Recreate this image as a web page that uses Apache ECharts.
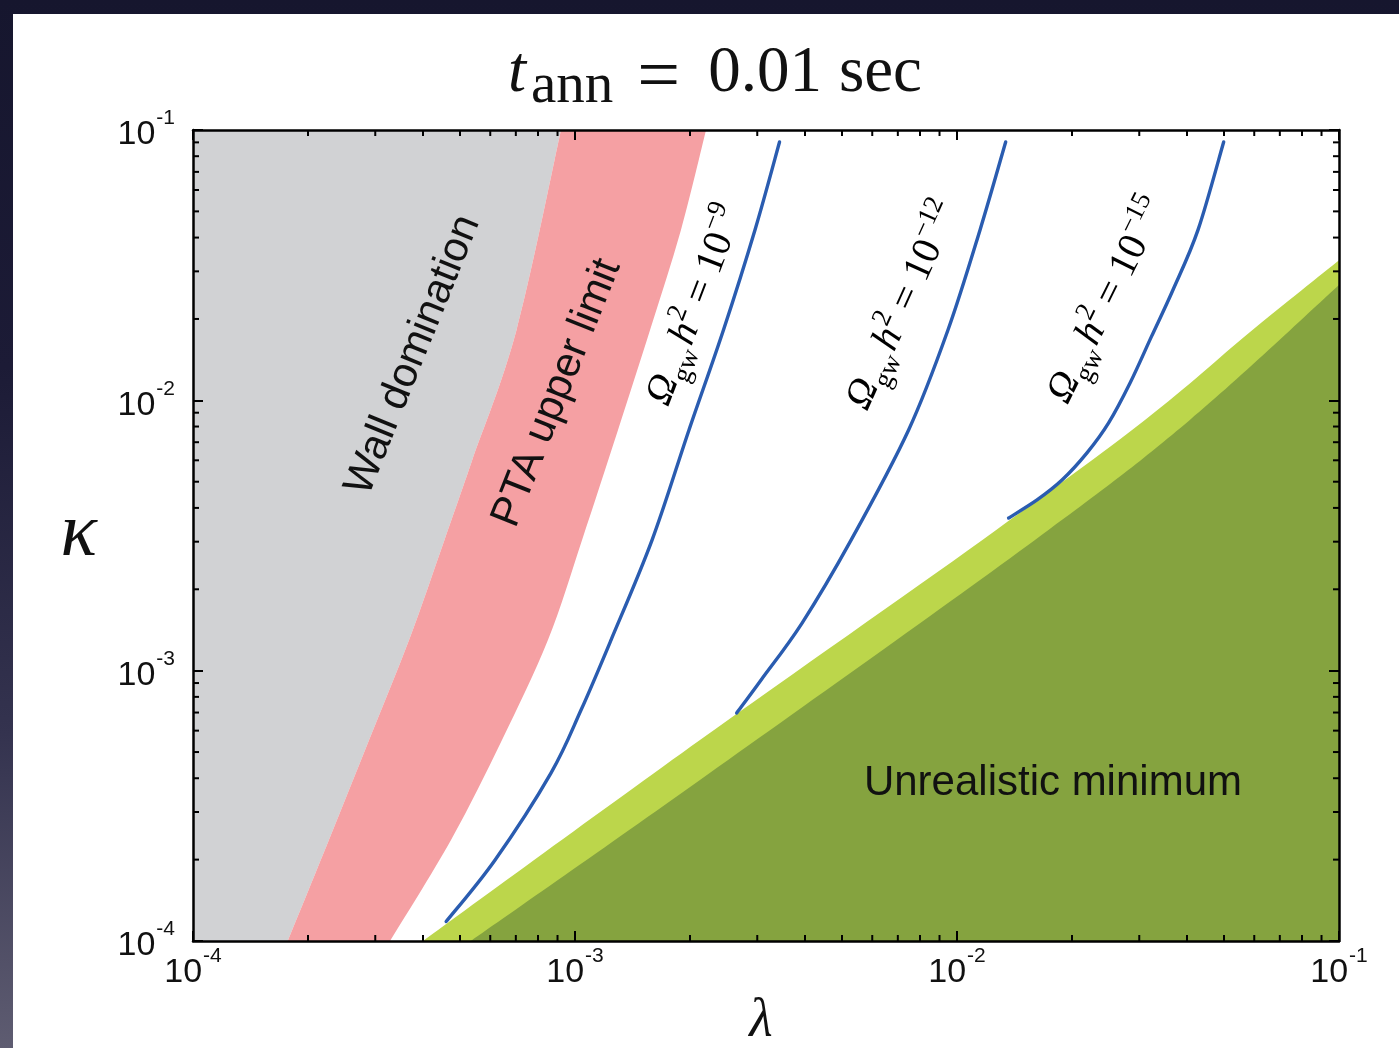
<!DOCTYPE html>
<html><head><meta charset="utf-8">
<script src="https://cdn.jsdelivr.net/npm/echarts@6/dist/echarts.min.js"></script>
<style>
html,body{margin:0;padding:0;width:1399px;height:1048px;overflow:hidden;}
body{background:linear-gradient(180deg,#16162e 0%,#1c1b36 35%,#34334f 70%,#5e5c71 100%);}
#paper{position:absolute;left:13px;top:14px;right:0;bottom:0;background:#fff;}
#chart{position:absolute;left:0;top:0;width:1399px;height:1048px;}
</style></head><body><div id="paper"></div><div id="chart"></div>
<script>
// ---------------- data ----------------
const AXIS_MIN = 1e-4, AXIS_MAX = 1e-1;
const minorTickValues = [2e-4,3e-4,4e-4,5e-4,6e-4,7e-4,8e-4,9e-4,
                         2e-3,3e-3,4e-3,5e-3,6e-3,7e-3,8e-3,9e-3,
                         2e-2,3e-2,4e-2,5e-2,6e-2,7e-2,8e-2,9e-2];

// wall-domination edge (gray | pink)
const wallEdgeLambda = [1.77e-4, 2.27e-4, 2.89e-4, 3.68e-4, 4.55e-4, 5.35e-4, 7.03e-4, 9.19e-4];
const wallEdgeKappa  = [1e-4,    2.37e-4, 5.54e-4, 1.30e-3, 3.04e-3, 5.87e-3, 1.82e-2, 1e-1];

// PTA upper limit edge (pink | white)
const ptaEdgeLambda = [3.28e-4, 4.74e-4, 6.44e-4, 8.50e-4, 1.043e-3, 1.296e-3, 1.572e-3, 1.894e-3, 2.203e-3];
const ptaEdgeKappa  = [1e-4,    2.37e-4, 5.54e-4, 1.30e-3, 3.04e-3,  7.77e-3,  1.82e-2,  4.27e-2,  1e-1];

// Omega_gw h^2 contours
const omega9Lambda  = [4.60e-4, 6.17e-4, 8.65e-4, 1.037e-3, 1.243e-3, 1.591e-3, 1.988e-3, 2.447e-3, 2.959e-3, 3.431e-3];
const omega9Kappa   = [1.18e-4, 1.99e-4, 4.18e-4, 7.15e-4,  1.30e-3,  3.04e-3,  7.77e-3,  1.82e-2,  4.27e-2,  9.03e-2];
const omega12Lambda = [2.65e-3, 3.07e-3, 3.93e-3, 5.28e-3, 7.47e-3, 9.47e-3, 1.149e-2, 1.341e-2];
const omega12Kappa  = [6.97e-4, 9.24e-4, 1.50e-3, 3.04e-3, 7.77e-3, 1.82e-2, 4.27e-2,  9.03e-2];
const omega15Lambda = [1.365e-2, 1.620e-2, 1.883e-2, 2.189e-2, 2.494e-2, 2.838e-2, 3.228e-2, 3.675e-2, 4.275e-2, 4.99e-2];
const omega15Kappa  = [3.67e-3,  4.28e-3,  5.07e-3,  6.39e-3,  8.25e-3,  1.159e-2, 1.72e-2,  2.56e-2,  4.27e-2,  9.03e-2];

// light green band upper edge, dark green (unrealistic minimum) upper edge
const lightEdgeLambda = [4.00e-4, 2.124e-3, 1.163e-2, 3.105e-2, 5.85e-2, 1e-1];
const lightEdgeKappa  = [1e-4,    5.54e-4,  3.04e-3,  8.46e-3,  1.79e-2, 3.30e-2];
const darkEdgeLambda  = [5.34e-4, 2.124e-3, 1.597e-2, 4.07e-2, 1e-1];
const darkEdgeKappa   = [1e-4,    3.94e-4,  3.04e-3,  8.46e-3, 2.67e-2];

// annotation anchors (data space)
const annotationLambda = [3.77e-4, 8.97e-4, 2.07e-3, 7.25e-3, 2.48e-2, 1.783e-2];
const annotationKappa  = [1.47e-2, 1.065e-2, 2.24e-2, 2.24e-2, 2.34e-2, 3.84e-4];
const annotationTexts  = ['Wall domination', 'PTA upper limit',
  '{O|Ω}{sub|gw}{h|h}{sup|2}{m| = 10}{sup|−9}',
  '{O|Ω}{sub|gw}{h|h}{sup|2}{m| = 10}{sup|−12}',
  '{O|Ω}{sub|gw}{h|h}{sup|2}{m| = 10}{sup|−15}',
  'Unrealistic minimum'];

// ---------------- styling ----------------
const annotationAngles = [68, 68.3, 69, 65.6, 63.6, 0];
const SANS = 'Liberation Sans, Arial, Helvetica, sans-serif';
const SERIF = 'Liberation Serif, Times New Roman, serif';
const mathRich = {
  O:   {fontFamily: SERIF, fontStyle: 'italic', fontSize: 40, lineHeight: 54, verticalAlign: 'middle', color: '#222'},
  h:   {fontFamily: SERIF, fontStyle: 'italic', fontSize: 40, lineHeight: 54, verticalAlign: 'middle', color: '#222', padding: [0, 0, 0, 3]},
  m:   {fontFamily: SERIF, fontSize: 40, lineHeight: 54, verticalAlign: 'middle', color: '#222'},
  sub: {fontFamily: SERIF, fontSize: 27, lineHeight: 27, verticalAlign: 'bottom', color: '#222'},
  sup: {fontFamily: SERIF, fontSize: 27, lineHeight: 27, verticalAlign: 'top', color: '#222'}
};

function zip(a, b) { return a.map((v, i) => [v, b[i]]); }

// Catmull-Rom smoothing through pixel coords obtained from the axes (rendering only)
function smoothEdge(px, cmd) {
  let d = cmd + px[0][0] + ' ' + px[0][1];
  for (let i = 0; i < px.length - 1; i++) {
    const p0 = px[i - 1] || px[i], p1 = px[i], p2 = px[i + 1], p3 = px[i + 2] || px[i + 1];
    const c1 = [p1[0] + (p2[0] - p0[0]) / 6, p1[1] + (p2[1] - p0[1]) / 6];
    const c2 = [p2[0] - (p3[0] - p1[0]) / 6, p2[1] - (p3[1] - p1[1]) / 6];
    d += ' C' + c1[0] + ' ' + c1[1] + ' ' + c2[0] + ' ' + c2[1] + ' ' + p2[0] + ' ' + p2[1];
  }
  return d;
}

function regionSeries(name, edges, color, z) {
  return {
    name, type: 'custom', coordinateSystem: 'cartesian2d', clip: true, silent: true, z,
    data: [edges[0].pts[0]],
    renderItem: (params, api) => {
      let d = '';
      edges.forEach((e, k) => {
        const px = e.pts.map(p => api.coord(p));
        if (e.smooth) d += (k ? ' ' : '') + smoothEdge(px, k ? 'L' : 'M');
        else px.forEach((p, j) => { d += ((k === 0 && j === 0) ? 'M' : ' L') + p[0] + ' ' + p[1]; });
      });
      d += ' Z';
      return { type: 'path', shape: { pathData: d }, style: { fill: color } };
    }
  };
}
function contourSeries(name, lams, kaps) {
  const pts = zip(lams, kaps);
  return {
    name, type: 'custom', coordinateSystem: 'cartesian2d', clip: true, silent: true, z: 5,
    data: [pts[0]],
    renderItem: (params, api) => ({
      type: 'path',
      shape: { pathData: smoothEdge(pts.map(p => api.coord(p)), 'M') },
      style: { fill: null, stroke: '#2a5cb0', lineWidth: 3.4, lineJoin: 'round', lineCap: 'round' }
    })
  };
}

const wallEdge = zip(wallEdgeLambda, wallEdgeKappa);
const ptaEdge = zip(ptaEdgeLambda, ptaEdgeKappa);
const lightEdge = zip(lightEdgeLambda, lightEdgeKappa);
const darkEdge = zip(darkEdgeLambda, darkEdgeKappa);

const expLabel = v => '{b|10}{s|' + Math.round(Math.log10(v)) + '}';
const labelRich = {
  b: {fontFamily: SANS, fontSize: 34, lineHeight: 44, verticalAlign: 'bottom', color: '#111'},
  s: {fontFamily: SANS, fontSize: 21, lineHeight: 21, verticalAlign: 'top', color: '#111', padding: [0, 0, 0, 1]}
};
const axisBase = {
  type: 'log', logBase: 10, min: AXIS_MIN, max: AXIS_MAX, z: 10,
  axisLine: { show: true, onZero: false, lineStyle: { color: '#000', width: 2.5 } },
  axisTick: { show: true, inside: true, length: 10, lineStyle: { color: '#000', width: 2 } },
  splitLine: { show: false }, minorTick: { show: false }
};
const titleTok = (extra) => Object.assign({fontFamily: SERIF, fontWeight: 'normal', fontSize: 65, lineHeight: 65,
  verticalAlign: 'bottom', color: '#111'}, extra);

const chart = echarts.init(document.getElementById('chart'), null, { renderer: 'canvas' });
chart.setOption({
  animation: false,
  backgroundColor: 'transparent',
  title: {
    left: 508, top: 45, padding: 0,
    text: '{t|t}{sub|ann}{eq|=}{num|0.01}{sec|sec}',
    textStyle: {
      fontWeight: 'normal',
      rich: {
        t:   titleTok({fontStyle: 'italic', padding: [0, 5, 15, 0]}),
        sub: titleTok({fontSize: 57, lineHeight: 57, padding: [0, 24, 5, 0]}),
        eq:  titleTok({fontSize: 76, lineHeight: 76, padding: [0, 28, 3, 0]}),
        num: titleTok({padding: [0, 17, 15, 0]}),
        sec: titleTok({padding: [0, 0, 15, 0]})
      }
    }
  },
  grid: { left: 193, top: 130, right: 60, bottom: 107, containLabel: false, outerBoundsMode: 'none' },
  xAxis: [
    Object.assign({}, axisBase, {
      position: 'bottom', name: 'λ', nameLocation: 'middle', nameGap: 18,
      nameTextStyle: { fontFamily: SERIF, fontStyle: 'italic', fontSize: 54, color: '#111', padding: [0, 10, 0, 0] },
      axisLabel: { show: true, margin: 5, formatter: expLabel, rich: labelRich, showMinLabel: true, showMaxLabel: true }
    }),
    Object.assign({}, axisBase, { position: 'top', axisLabel: { show: false } })
  ],
  yAxis: [
    Object.assign({}, axisBase, {
      position: 'left', name: 'κ', nameLocation: 'middle', nameGap: 96, nameRotate: 0,
      nameTextStyle: { fontFamily: SERIF, fontStyle: 'italic', fontSize: 76, color: '#111', padding: [8, 0, 0, 0] },
      axisLabel: { show: true, margin: 18, formatter: expLabel, rich: labelRich, showMinLabel: true, showMaxLabel: true }
    }),
    Object.assign({}, axisBase, { position: 'right', axisLabel: { show: false } })
  ],
  series: [
    regionSeries('Wall domination', [{pts: wallEdge, smooth: true}, {pts: [[AXIS_MIN, AXIS_MAX], [AXIS_MIN, AXIS_MIN]]}], '#d1d2d4', 1),
    regionSeries('PTA upper limit', [{pts: wallEdge, smooth: true}, {pts: ptaEdge.slice().reverse(), smooth: true}], '#f5a0a3', 1),
    regionSeries('band', [{pts: lightEdge, smooth: true}, {pts: [[AXIS_MAX, AXIS_MIN]]}], '#bcd64b', 2),
    regionSeries('Unrealistic minimum', [{pts: darkEdge, smooth: true}, {pts: [[AXIS_MAX, AXIS_MIN]]}], '#85a33f', 3),
    contourSeries('1e-9', omega9Lambda, omega9Kappa),
    contourSeries('1e-12', omega12Lambda, omega12Kappa),
    contourSeries('1e-15', omega15Lambda, omega15Kappa),
    {
      type: 'custom', coordinateSystem: 'cartesian2d', silent: true, z: 12, clip: false,
      data: minorTickValues.map(v => [v, AXIS_MIN]),
      renderItem: (params, api) => {
        const cs = params.coordSys; const p = api.coord([api.value(0), api.value(1)]);
        const st = { stroke: '#000', lineWidth: 2 };
        return { type: 'group', children: [
          { type: 'line', shape: { x1: p[0], y1: cs.y + cs.height, x2: p[0], y2: cs.y + cs.height - 6 }, style: st },
          { type: 'line', shape: { x1: p[0], y1: cs.y, x2: p[0], y2: cs.y + 6 }, style: st }
        ]};
      }
    },
    {
      type: 'custom', coordinateSystem: 'cartesian2d', silent: true, z: 12, clip: false,
      data: minorTickValues.map(v => [AXIS_MIN, v]),
      renderItem: (params, api) => {
        const cs = params.coordSys; const p = api.coord([api.value(0), api.value(1)]);
        const st = { stroke: '#000', lineWidth: 2 };
        return { type: 'group', children: [
          { type: 'line', shape: { x1: cs.x, y1: p[1], x2: cs.x + 6, y2: p[1] }, style: st },
          { type: 'line', shape: { x1: cs.x + cs.width, y1: p[1], x2: cs.x + cs.width - 6, y2: p[1] }, style: st }
        ]};
      }
    },
    {
      type: 'custom', coordinateSystem: 'cartesian2d', silent: true, z: 8, clip: false,
      data: zip(annotationLambda, annotationKappa),
      renderItem: (params, api) => {
        const i = params.dataIndex;
        const p = api.coord([api.value(0), api.value(1)]);
        const isMath = annotationTexts[i].charAt(0) === '{';
        return {
          type: 'text', x: p[0], y: p[1], rotation: annotationAngles[i] * Math.PI / 180,
          style: isMath ? {
            text: annotationTexts[i], rich: mathRich, align: 'center', verticalAlign: 'middle'
          } : {
            text: annotationTexts[i], fontFamily: SANS, fontSize: 42, fill: '#111',
            align: 'center', verticalAlign: 'middle'
          }
        };
      }
    }
  ]
});
</script></body></html>
